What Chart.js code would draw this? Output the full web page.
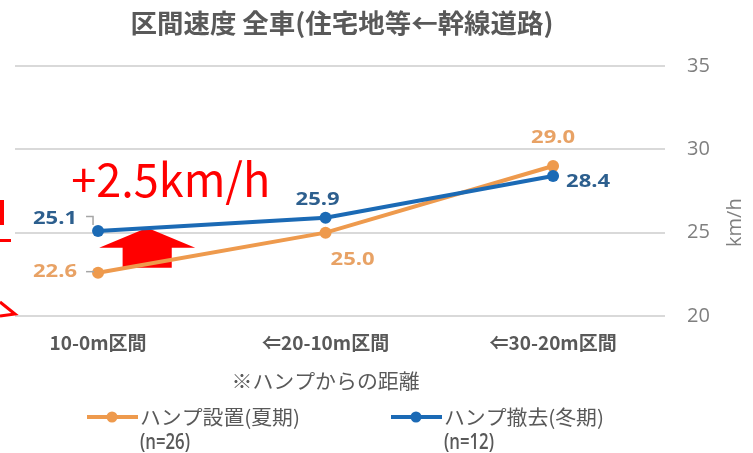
<!DOCTYPE html>
<html>
<head>
<meta charset="utf-8">
<script src="https://cdn.jsdelivr.net/npm/chart.js@4.4.1/dist/chart.umd.min.js"></script>
<style>
html, body { margin: 0; padding: 0; background: #fff; }
</style>
</head>
<body>
<canvas id="speedChart" width="753" height="453"></canvas>
<script>
const categories = ['10-0m区間', '⇐20-10m区間', '⇐30-20m区間'];
const summerSpeeds = [22.6, 25.0, 29.0];
const winterSpeeds = [25.1, 25.9, 28.4];
const seriesNames = ['ハンプ設置(夏期)', 'ハンプ撤去(冬期)'];
const sampleSizes = ['(n=26)', '(n=12)'];
const chartTitle = '区間速度 全車(住宅地等←幹線道路)';
const xTitle = '※ハンプからの距離';
const yTitle = 'km/h';
const diffLabel = '+2.5km/h';

const orange = '#EE9A4D';
const blue = '#1B6AB5';
const orangeText = '#E8A265';
const blueText = '#2D5F8E';
const grey = '#595959';
const jp = "'Noto Sans CJK JP', sans-serif";

// draw text stretched/squeezed to a given width
function fitText(ctx, text, x, y, w, align) {
    let natural = ctx.measureText(text).width;
    ctx.save();
    ctx.translate(x, y);
    ctx.scale(w / natural, 1);
    ctx.textAlign = align;
    ctx.fillText(text, 0, 0);
    ctx.restore();
}

// label offsets from each point: [dx, dy]
const labelOffsets = [
    [[-43, -1], [27, 27], [0, -28]],
    [[-43, -12], [-8, -18], [35, 6]]
];

const extras = {
    id: 'extras',
    beforeDatasetsDraw(chart) {
        let ctx = chart.ctx;
        let xs = chart.scales.x, ys = chart.scales.y;
        // red arrow showing the gap at the first section
        let cx = xs.getPixelForValue(0.216);
        let tip = ys.getPixelForValue(winterSpeeds[0] + 0.2);
        let base = ys.getPixelForValue(24.1);
        let foot = ys.getPixelForValue(22.9);
        let half = xs.getPixelForValue(0.216 + 0.211) - cx;
        let stem = xs.getPixelForValue(0.216 + 0.108) - cx;
        ctx.save();
        ctx.fillStyle = '#FF0000';
        ctx.beginPath();
        ctx.moveTo(cx, tip);
        ctx.lineTo(cx + half, base);
        ctx.lineTo(cx + stem, base);
        ctx.lineTo(cx + stem, foot);
        ctx.lineTo(cx - stem, foot);
        ctx.lineTo(cx - stem, base);
        ctx.lineTo(cx - half, base);
        ctx.closePath();
        ctx.fill();
        ctx.restore();
    },
    afterDatasetsDraw(chart) {
        let ctx = chart.ctx;
        let xs = chart.scales.x, ys = chart.scales.y;
        ctx.save();

        // title
        ctx.fillStyle = grey;
        ctx.textBaseline = 'middle';
        ctx.font = 'bold 26px ' + jp;
        fitText(ctx, chartTitle, 342, 23, 423, 'center');

        // value labels
        [summerSpeeds, winterSpeeds].forEach((vals, i) => {
            let meta = chart.getDatasetMeta(i);
            ctx.fillStyle = i == 0 ? orangeText : blueText;
            ctx.font = "bold 18px 'Open Sans', sans-serif";
            vals.forEach((v, j) => {
                let p = meta.data[j];
                let off = labelOffsets[i][j];
                fitText(ctx, v.toFixed(1), p.x + off[0], p.y + off[1], 44, 'center');
            });
        });

        // leader lines for the first section labels
        ctx.strokeStyle = '#A6A6A6';
        ctx.lineWidth = 1.5;
        let p0 = chart.getDatasetMeta(0).data[0];
        ctx.beginPath();
        ctx.moveTo(p0.x - 12, p0.y - 1);
        ctx.lineTo(p0.x - 4, p0.y - 1);
        ctx.stroke();
        let p1 = chart.getDatasetMeta(1).data[0];
        ctx.beginPath();
        ctx.moveTo(p1.x - 12, p1.y - 14.5);
        ctx.lineTo(p1.x - 5, p1.y - 14.5);
        ctx.lineTo(p1.x - 5, p1.y - 6);
        ctx.stroke();

        // axis titles
        ctx.fillStyle = grey;
        ctx.font = '20px ' + jp;
        fitText(ctx, xTitle, xs.getPixelForValue(1), 381, 188, 'center');
        ctx.save();
        ctx.fillStyle = '#7F7F7F';
        ctx.font = "20px 'Open Sans', sans-serif";
        ctx.translate(735, ys.getPixelForValue(25.6));
        ctx.rotate(-Math.PI / 2);
        ctx.textAlign = 'center';
        ctx.fillText(yTitle, 0, 0);
        ctx.restore();

        // legend
        let legendX = [87, 391];
        [orange, blue].forEach((col, i) => {
            let lx = legendX[i];
            ctx.strokeStyle = col;
            ctx.lineWidth = 4;
            ctx.beginPath();
            ctx.moveTo(lx, 417);
            ctx.lineTo(lx + 51, 417);
            ctx.stroke();
            ctx.fillStyle = col;
            ctx.beginPath();
            ctx.arc(lx + 25, 417, 5.5, 0, Math.PI * 2);
            ctx.fill();
            ctx.fillStyle = grey;
            ctx.font = '20px ' + jp;
            fitText(ctx, seriesNames[i], lx + 53, 417, 160, 'left');
            ctx.font = "600 21px 'Open Sans', sans-serif";
            fitText(ctx, sampleSizes[i], lx + 53, 443, 50, 'left');
        });

        // difference annotation
        ctx.fillStyle = '#FF0000';
        ctx.font = '46px ' + jp;
        fitText(ctx, diffLabel, xs.getPixelForValue(0.32), ys.getPixelForValue(28.2), 199, 'center');

        // pieces of the neighbouring annotation cut off at the edge
        ctx.fillRect(0, 200, 4, 25);
        ctx.fillRect(0, 239, 11, 3);
        ctx.strokeStyle = '#FF0000';
        ctx.lineWidth = 3;
        ctx.beginPath();
        ctx.moveTo(0, 302);
        ctx.lineTo(15, 314);
        ctx.lineTo(0, 316);
        ctx.stroke();

        ctx.restore();
    }
};

new Chart(document.getElementById('speedChart'), {
    type: 'line',
    data: {
        datasets: [
            {
                label: seriesNames[0],
                data: summerSpeeds.map((v, i) => ({x: i, y: v})),
                borderColor: orange,
                backgroundColor: orange,
                borderWidth: 4,
                pointRadius: 6,
                pointBorderWidth: 0,
                order: 1
            },
            {
                label: seriesNames[1],
                data: winterSpeeds.map((v, i) => ({x: i, y: v})),
                borderColor: blue,
                backgroundColor: blue,
                borderWidth: 4,
                pointRadius: 6,
                pointBorderWidth: 0,
                order: 0
            }
        ]
    },
    options: {
        responsive: false,
        animation: false,
        layout: {
            padding: {top: 66, left: 15, right: 0, bottom: 0}
        },
        plugins: {
            legend: {display: false},
            title: {display: false},
            tooltip: {enabled: false}
        },
        scales: {
            x: {
                type: 'linear',
                min: -0.365,
                max: 2.492,
                grid: {display: false, drawTicks: false},
                border: {display: false},
                afterBuildTicks: (scale) => {
                    scale.ticks = categories.map((c, i) => ({value: i}));
                },
                afterFit: (scale) => { scale.height = 137; },
                ticks: {
                    autoSkip: false,
                    maxRotation: 0,
                    padding: 15,
                    color: grey,
                    font: {family: jp, size: 19, weight: '600'},
                    callback: (v) => categories[v]
                }
            },
            y: {
                position: 'right',
                min: 20,
                max: 35,
                grid: {color: '#D9D9D9', lineWidth: 2, drawTicks: false},
                border: {display: false},
                afterFit: (scale) => { scale.width = 88; },
                ticks: {
                    stepSize: 5,
                    padding: 22,
                    color: '#7F7F7F',
                    font: {family: "'Open Sans', sans-serif", size: 20}
                }
            }
        }
    },
    plugins: [extras]
});
</script>
</body>
</html>
